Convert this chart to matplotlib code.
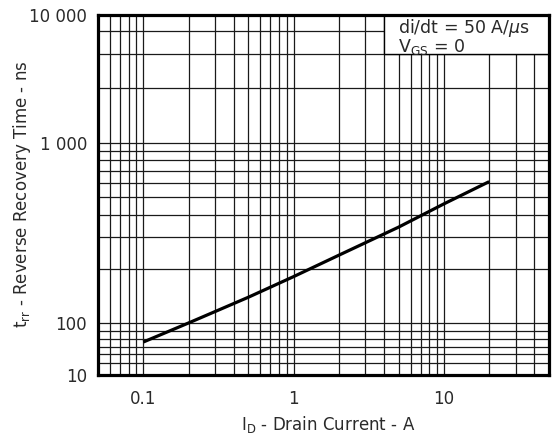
"""
Reverse recovery time vs drain current (datasheet style log-log chart).
"""
import matplotlib
matplotlib.use("Agg")
import matplotlib.pyplot as plt
from matplotlib.patches import Rectangle
import numpy as np

# curve
current_a = [0.1, 0.2, 0.5, 1, 2, 5, 10, 20]
trr_ns = [43, 100, 139, 181, 238, 341, 459, 610]

x_ticks = [0.1, 1, 10]
x_tick_labels = ["0.1", "1", "10"]
y_ticks = [10, 100, 1000, 10000]
y_tick_labels = ["10", "100", "1 000", "10 000"]
# the original grid is uneven in the outer decades
y_minor = [17, 25, 35, 50, 70,
           200, 300, 400, 500, 600, 700, 800, 900,
           2700, 5000, 7500]

# the decades are not equally tall in the original, so the y scale is
# piecewise log: 10-100, 100-1000, 1000-10000
DEC_H = (52.0, 180.0, 128.0)


def y_fwd(v):
    L = np.log10(np.clip(np.asarray(v, float), 1e-6, None))
    a, b, c = DEC_H
    return np.where(L < 2, (L - 1) * a,
                    np.where(L < 3, a + (L - 2) * b, a + b + (L - 3) * c))


def y_inv(u):
    u = np.asarray(u, float)
    a, b, c = DEC_H
    L = np.where(u < a, 1 + u / a,
                 np.where(u < a + b, 2 + (u - a) / b, 3 + (u - a - b) / c))
    return 10 ** L


plt.rcParams["font.family"] = ["DejaVu Sans"]
plt.rcParams["mathtext.default"] = "regular"
TXT = "#2a2a2a"

fig, ax = plt.subplots(figsize=(5.55, 4.41), dpi=100)
fig.subplots_adjust(left=0.1766, right=0.9892, bottom=0.1497, top=0.966)

ax.set_xscale("log")
ax.set_yscale("function", functions=(y_fwd, y_inv))
ax.set_xlim(0.05, 50)
ax.set_ylim(10, 10000)

ax.set_xticks(x_ticks, x_tick_labels)
ax.set_yticks(y_ticks, y_tick_labels)
ax.set_yticks(y_minor, minor=True)
ax.yaxis.set_minor_formatter(plt.NullFormatter())
ax.xaxis.set_minor_formatter(plt.NullFormatter())
ax.tick_params(which="both", length=0, labelsize=12, colors=TXT)
ax.tick_params(axis="x", pad=11)
ax.tick_params(axis="y", pad=8)

ax.set_axisbelow(True)
ax.grid(True, which="both", color="#1a1a1a", linewidth=0.9)
for sp in ax.spines.values():
    sp.set_linewidth(2.3)
    sp.set_color("black")

ax.plot(current_a, trr_ns, color="black", linewidth=2.3,
        solid_capstyle="butt", zorder=3)

# condition box in the top right corner, covering the grid
ax.add_patch(Rectangle((4, 5000), 50 - 4, 10000 - 5000, facecolor="white",
                       edgecolor="black", linewidth=1.0, zorder=2))
ax.text(0.665, 0.898, "di/dt = 50 A/$\\mathit{\\mu}$s\nV$_{GS}$ = 0",
        transform=ax.transAxes, fontsize=12.5, va="baseline", ha="left",
        linespacing=0.85, color=TXT, zorder=4)

fig.text(0.0396, 0.56, "t$_{rr}$ - Reverse Recovery Time - ns",
         rotation=90, ha="center", va="center", fontsize=12, color=TXT)
fig.text(0.591, 0.0363, "I$_{D}$ - Drain Current - A",
         ha="center", va="center", fontsize=12, color=TXT)

fig.savefig("out.png", dpi=100)
